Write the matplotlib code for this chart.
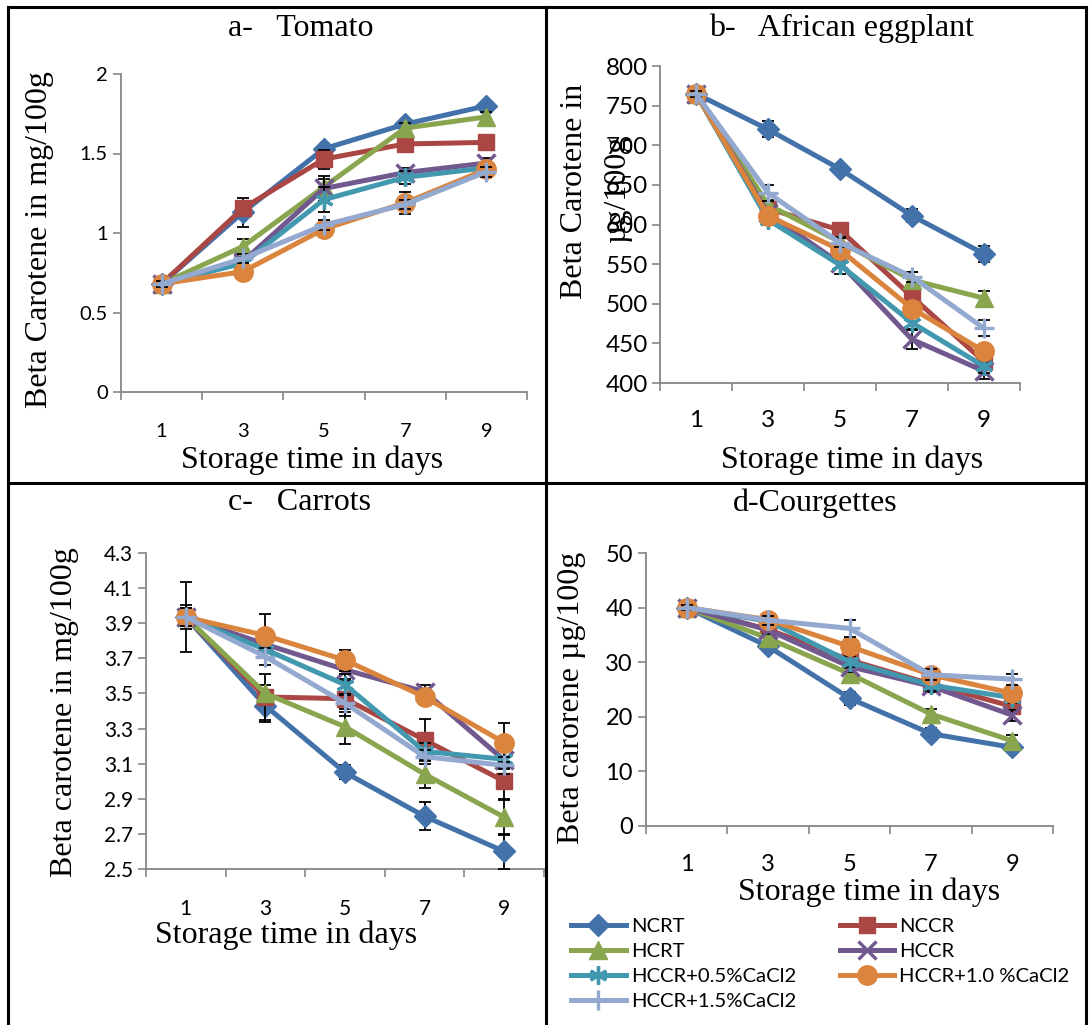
import numpy as np
import matplotlib
matplotlib.use('Agg')
import matplotlib.pyplot as plt
from matplotlib.lines import Line2D

# storage days and treatments
days = [1, 3, 5, 7, 9]
treatments = ['NCRT', 'NCCR', 'HCRT', 'HCCR', 'HCCR+0.5%CaCl2',
              'HCCR+1.0 %CaCl2', 'HCCR+1.5%CaCl2']

# beta carotene, one row per treatment (same order as above)
tomato = [
    [0.68, 1.13, 1.53, 1.685, 1.80],
    [0.68, 1.155, 1.465, 1.56, 1.57],
    [0.68, 0.915, 1.29, 1.66, 1.73],
    [0.68, 0.82, 1.28, 1.38, 1.44],
    [0.68, 0.81, 1.21, 1.35, 1.41],
    [0.68, 0.757, 1.025, 1.19, 1.40],
    [0.68, 0.84, 1.05, 1.18, 1.385],
]
tomato_err = [
    [0.02, 0.09, 0.02, 0.02, 0.02],
    [0.02, 0.03, 0.06, 0.03, 0.04],
    [0.02, 0.05, 0.05, 0.03, 0.03],
    [0.02, 0.03, 0.08, 0.03, 0.03],
    [0.02, 0.03, 0.08, 0.04, 0.03],
    [0.02, 0.03, 0.03, 0.07, 0.03],
    [0.02, 0.03, 0.03, 0.03, 0.03],
]

eggplant = [
    [765, 720, 670, 611, 563],
    [765, 620, 593, 509, 427],
    [765, 625, 578, 530, 507],
    [765, 614, 551, 455, 415],
    [765, 606, 549, 476, 421],
    [765, 611, 568, 494, 440],
    [765, 640, 577, 534, 469],
]
eggplant_err = [
    [4, 10, 5, 8, 10],
    [4, 6, 8, 10, 6],
    [4, 6, 6, 10, 9],
    [4, 6, 6, 12, 10],
    [4, 6, 12, 8, 8],
    [4, 6, 6, 6, 6],
    [4, 10, 6, 6, 10],
]

carrots = [
    [3.935, 3.43, 3.05, 2.80, 2.60],
    [3.935, 3.48, 3.47, 3.235, 3.00],
    [3.935, 3.50, 3.31, 3.04, 2.795],
    [3.935, 3.78, 3.635, 3.51, 3.12],
    [3.935, 3.75, 3.55, 3.17, 3.125],
    [3.935, 3.83, 3.69, 3.48, 3.22],
    [3.935, 3.71, 3.445, 3.14, 3.09],
]
carrots_err = [
    [0.07, 0.09, 0.04, 0.08, 0.10],
    [0.20, 0.13, 0.10, 0.12, 0.10],
    [0.05, 0.05, 0.10, 0.08, 0.10],
    [0.05, 0.05, 0.05, 0.04, 0.05],
    [0.05, 0.05, 0.06, 0.05, 0.05],
    [0.05, 0.12, 0.06, 0.04, 0.11],
    [0.05, 0.05, 0.05, 0.04, 0.05],
]

courgettes = [
    [40, 32.9, 23.4, 16.9, 14.4],
    [40, 36.0, 30.4, 26.0, 21.9],
    [40, 34.4, 27.9, 20.5, 15.6],
    [40, 35.9, 29.2, 25.6, 20.3],
    [40, 37.5, 30.1, 25.8, 23.5],
    [40, 37.8, 32.9, 27.7, 24.3],
    [40, 37.7, 36.2, 27.7, 26.9],
]
courgettes_err = [
    [0.5, 0.8, 1.2, 1.0, 0.8],
    [0.5, 0.8, 1.0, 1.0, 1.0],
    [0.5, 0.8, 1.0, 1.0, 1.0],
    [0.5, 0.8, 1.0, 1.0, 1.0],
    [0.5, 1.0, 1.0, 1.0, 1.0],
    [0.5, 0.8, 1.5, 1.0, 1.0],
    [0.5, 0.8, 1.6, 1.0, 1.0],
]

colors = ['#4372AA', '#AA4643', '#89A54E', '#71588F', '#4198AF', '#DB843D', '#93A9CF']
markers = ['D', 's', '^', 'x', (6, 2, 0), 'o', '+']
msizes = [11, 12, 13, 13, 13, 14, 15]

W, H = 1089, 1025
SERIF = 'Liberation Serif'
SANS = 'Lato'
AXGRAY = '#868686'

fig = plt.figure(figsize=(W / 100, H / 100), dpi=100)


def px(x, y):
    return x / W, 1 - y / H


def add_panel(left, top, right, bottom, data, err, ylim, yticks, yfmt, tfs, ypad):
    l, t = px(left, top)
    r, b = px(right, bottom)
    ax = fig.add_axes([l, b, r - l, t - b])
    xs = np.arange(len(days))
    for i in range(len(treatments)):
        ax.errorbar(xs, data[i], yerr=err[i], fmt='none', ecolor='black',
                    elinewidth=1.3, capsize=4, capthick=1.3, zorder=3 + i)
        thin = markers[i] in ('x', '+') or isinstance(markers[i], tuple)
        ax.plot(xs, data[i], color=colors[i], lw=3.6, marker=markers[i],
                ms=msizes[i], mew=2.4 if thin else 1,
                mec=colors[i], label=treatments[i], zorder=3 + i)
    ax.set_xlim(-0.5, len(days) - 0.5)
    ax.set_ylim(*ylim)
    ax.set_yticks(yticks)
    ax.set_yticklabels([yfmt(v) for v in yticks], fontsize=tfs, family=SANS)
    ax.set_xticks(np.arange(len(days) + 1) - 0.5)
    ax.set_xticklabels([])
    ax.set_xticks(xs, minor=True)
    ax.set_xticklabels([str(d) for d in days], minor=True, fontsize=tfs, family=SANS)
    ax.tick_params(axis='x', which='minor', length=0, pad=36 - tfs * 0.95)
    ax.tick_params(axis='both', which='major', color=AXGRAY, width=1.2, length=5.5)
    ax.tick_params(axis='y', pad=ypad)
    for s in ('top', 'right'):
        ax.spines[s].set_visible(False)
    for s in ('left', 'bottom'):
        ax.spines[s].set_color(AXGRAY)
        ax.spines[s].set_linewidth(1.3)
    ax.patch.set_alpha(0)
    return ax


def g(v):
    return ('%g' % v)


axa = add_panel(121, 74, 527, 392, tomato, tomato_err, (0, 2), [0, 0.5, 1, 1.5, 2], g,
                14.5, 4)
axb = add_panel(660, 66, 1020, 383, eggplant, eggplant_err, (400, 800),
                list(range(400, 801, 50)), lambda v: str(int(v)), 17.5, 3)
axc = add_panel(146, 553, 544, 869, carrots, carrots_err, (2.5, 4.3),
                list(np.round(np.arange(2.5, 4.31, 0.2), 1)), lambda v: '%.1f' % v,
                15, 4)
axd = add_panel(646, 553, 1053, 826, courgettes, courgettes_err, (0, 50),
                list(range(0, 51, 10)), lambda v: str(int(v)), 17, 4)

# titles, axis labels
fs = 23
for x, y, s in [(301, 28, 'a-   Tomato'), (842, 28, 'b-   African eggplant'),
                (300, 503, 'c-   Carrots'), (815, 503, 'd-Courgettes')]:
    fig.text(*px(x, y), s, family=SERIF, fontsize=fs, ha='center', va='center')
for x, y in [(312, 460), (852, 460), (286, 935), (869, 892)]:
    fig.text(*px(x, y), 'Storage time in days', family=SERIF, fontsize=fs,
             ha='center', va='center')
fig.text(*px(40, 240), 'Beta Carotene in mg/100g', family=SERIF, fontsize=fs,
         rotation=90, ha='center', va='center')
fig.text(*px(574, 191), 'Beta Carotene in', family=SERIF, fontsize=fs,
         rotation=90, ha='center', va='center')
fig.text(*px(617, 188), 'µg/100g', family=SERIF, fontsize=fs,
         rotation=90, ha='center', va='center')
fig.text(*px(65, 712), 'Beta carotene in mg/100g', family=SERIF, fontsize=fs,
         rotation=90, ha='center', va='center')
fig.text(*px(572, 698), 'Beta carorene µg/100g', family=SERIF, fontsize=fs,
         rotation=90, ha='center', va='center')

# legend, row-wise in two columns
handles, labels = axd.get_legend_handles_labels()
order = [0, 2, 4, 6, 1, 3, 5]
leg = fig.legend([handles[i] for i in order], [labels[i] for i in order],
                 ncol=2, loc='upper left', bbox_to_anchor=px(571, 918),
                 frameon=False, prop={'family': SANS, 'size': 14.6},
                 handlelength=2.7, handletextpad=0.25, columnspacing=2.15,
                 labelspacing=0.38, borderpad=0, borderaxespad=0)

# table grid lines around the four panels
lk = dict(color='black', lw=2.2, transform=fig.transFigure)
for (x0, y0), (x1, y1) in [((8, 7), (1086, 7)), ((8, 7), (8, 1025)),
                           ((1086, 7), (1086, 1025)), ((546, 7), (546, 1025)),
                           ((8, 483), (1086, 483))]:
    a, b = px(x0, y0)
    c, d = px(x1, y1)
    fig.add_artist(Line2D([a, c], [b, d], **lk))

fig.savefig('out.png', dpi=100)
